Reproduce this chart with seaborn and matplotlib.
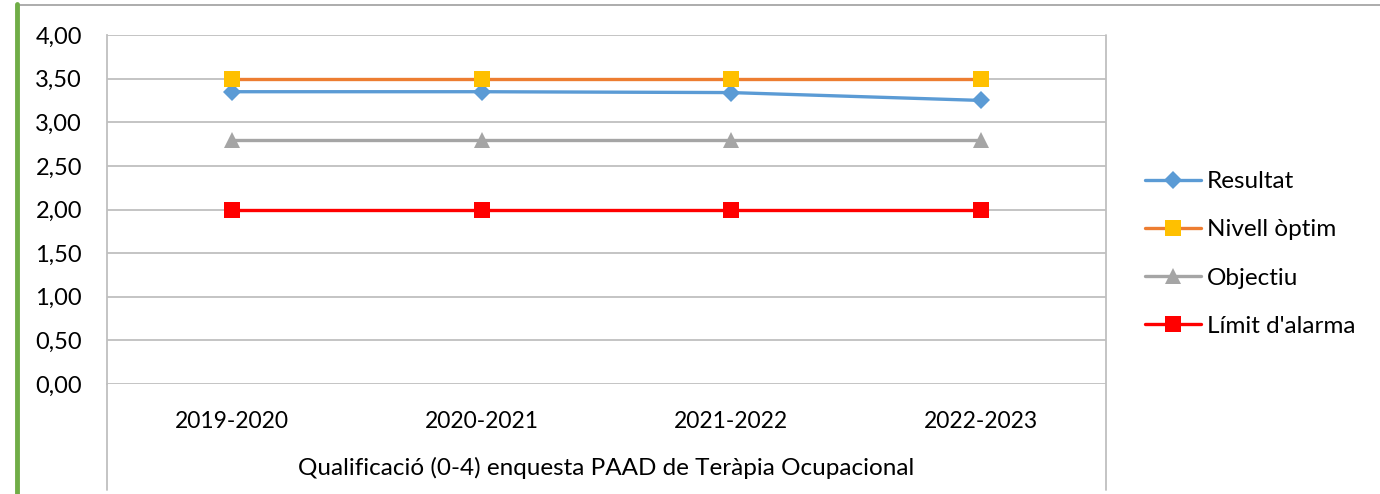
import pandas as pd
import seaborn as sns
import matplotlib.pyplot as plt
from matplotlib.lines import Line2D
from matplotlib.ticker import FuncFormatter

# chart data
cursos = ["2019-2020", "2020-2021", "2021-2022", "2022-2023"]
resultat = [3.35, 3.35, 3.34, 3.25]
nivell_optim = [3.50, 3.50, 3.50, 3.50]
objectiu = [2.80, 2.80, 2.80, 2.80]
limit_alarma = [2.00, 2.00, 2.00, 2.00]
titol_x = "Qualificació (0-4) enquesta PAAD de Teràpia Ocupacional"

sns.set_style("white")
plt.rcParams['font.family'] = ['Lato', 'DejaVu Sans']
plt.rcParams['text.color'] = 'black'

fig = plt.figure(figsize=(13.8, 4.94), dpi=100)
ax = fig.add_axes([107/1380, 110/494, 999/1380, 349/494])

series = [
    ("Resultat", resultat, "#5B9BD5", "D", "#5B9BD5", 9),
    ("Nivell òptim", nivell_optim, "#ED7D31", "s", "#FFC000", 12),
    ("Objectiu", objectiu, "#A5A5A5", "^", "#A5A5A5", 11),
    ("Límit d'alarma", limit_alarma, "#FF0000", "s", "#FF0000", 12),
]

for name, vals, col, mk, mcol, ms in series:
    df = pd.DataFrame({"curs": cursos, "valor": vals})
    sns.lineplot(data=df, x="curs", y="valor", ax=ax, color=col, lw=2.4,
                 marker=mk, markersize=ms, markerfacecolor=mcol,
                 markeredgecolor=mcol, markeredgewidth=0, label=name,
                 sort=False, zorder=3)

ax.set_xlim(-0.5, 3.5)
ax.set_ylim(0, 4)
ax.set_yticks([i * 0.5 for i in range(9)])
ax.yaxis.set_major_formatter(FuncFormatter(lambda v, p: f"{v:.2f}".replace(".", ",")))
ax.grid(axis="y", color="#BFBFBF", lw=1.3)
ax.grid(axis="x", visible=False)
for s in ["top", "bottom", "right"]:
    ax.spines[s].set_visible(False)
ax.spines["left"].set_color("#BFBFBF")
ax.spines["left"].set_linewidth(1.3)
ax.tick_params(axis="y", length=0, labelsize=17, pad=18, labelcolor="black")
ax.tick_params(axis="x", length=0, labelsize=16.5, pad=19.5, labelcolor="black")
ax.set_xlabel(titol_x, fontsize=17.5, labelpad=18, color="black")
ax.set_ylabel("")

# legend outside the plot area
handles, labels = ax.get_legend_handles_labels()
ax.legend(handles, labels, loc="center left", bbox_to_anchor=(1145/1380, 240/494),
          bbox_transform=fig.transFigure, frameon=False, fontsize=17.5,
          handlelength=2.3, handletextpad=0.25, labelspacing=1.12, borderpad=0,
          borderaxespad=0)

# frame lines like the spreadsheet export
fig.add_artist(Line2D([107/1380, 107/1380], [4/494, 110/494], color="#BFBFBF", lw=1.3))
fig.add_artist(Line2D([1106/1380, 1106/1380], [4/494, 459/494], color="#BFBFBF", lw=1.3))
fig.add_artist(Line2D([20/1380, 1.0], [489/494, 489/494], color="#A6A6A6", lw=1.3))
fig.add_artist(Line2D([17/1380, 17/1380], [0, 490/494], color="#70AD47", lw=3.5))

fig.savefig("out.png", dpi=100)
